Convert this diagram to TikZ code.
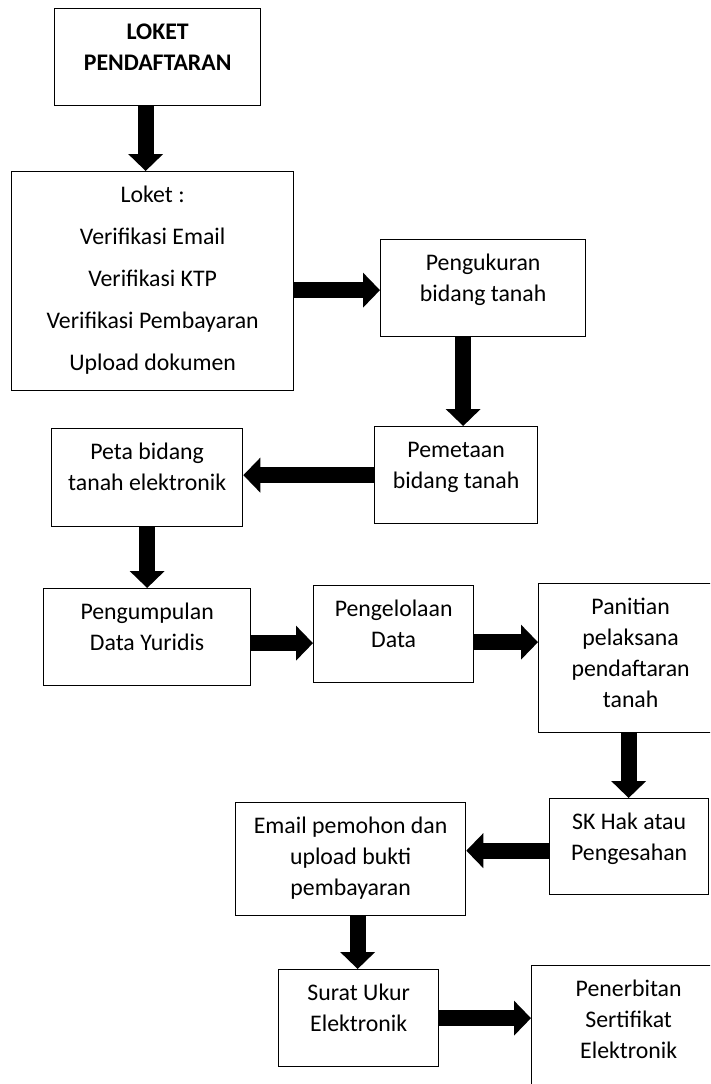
\documentclass[tikz,border=0pt]{standalone}
\usepackage{fontspec}
\setmainfont{Carlito}
\usetikzlibrary{arrows.meta}

\tikzset{
  stage/.style={draw=black, line width=1.3pt, inner sep=0pt, anchor=north west},
  fat/.style={line width=16pt, -{Triangle[width=34pt,length=17pt]}},
}
% text of a box: [line skip]{width}{height}{lines}
\newcommand{\stagetext}[4][31pt]{\parbox[c][#3][t]{#2}{\centering\fontsize{23.8}{#1}\selectfont\rule{0pt}{31pt}#4\par}}

\begin{document}
\begin{tikzpicture}[x=1pt, y=-1pt]
\useasboundingbox (0,0) rectangle (710,1084);
\clip (0,0) rectangle (710,1084);

\node[stage] (daftar) at (54,8) {\stagetext{206pt}{97pt}{\textbf{LOKET}\\\textbf{PENDAFTARAN}}};
\node[stage] (loket) at (11,171) {\stagetext[42pt]{282pt}{219pt}{Loket :\\Verifikasi Email\\Verifikasi KTP\\Verifikasi Pembayaran\\Upload dokumen}};
\node[stage] (ukur) at (380,239) {\stagetext{205pt}{97pt}{Pengukuran\\bidang tanah}};
\node[stage] (petaan) at (374,426) {\stagetext{163pt}{97pt}{Pemetaan\\bidang tanah}};
\node[stage] (peta) at (51,428) {\stagetext{191pt}{98pt}{Peta bidang\\tanah elektronik}};
\node[stage] (kumpul) at (43,588) {\stagetext{207pt}{97pt}{Pengumpulan\\Data Yuridis}};
\node[stage] (kelola) at (313,585) {\stagetext{160pt}{97pt}{Pengelolaan\\Data}};
\node[stage] (panitia) at (538,583) {\stagetext{184pt}{149pt}{Panitian\\pelaksana\\pendaftaran\\tanah}};
\node[stage] (sk) at (549,798) {\stagetext{159pt}{96pt}{SK Hak atau\\Pengesahan}};
\node[stage] (email) at (235,802) {\stagetext{230pt}{113pt}{Email pemohon dan\\upload bukti\\pembayaran}};
\node[stage] (surat) at (278,969) {\stagetext{160pt}{97pt}{Surat Ukur\\Elektronik}};
\node[stage] (terbit) at (531,965) {\stagetext{194pt}{150pt}{Penerbitan\\Sertifikat\\Elektronik}};

\draw[fat] ([xshift=-12pt]daftar.south) -- ([xshift=-12pt]daftar.south |- loket.north);
\draw[fat] ([yshift=-2pt]loket.east |- ukur.west) -- ([yshift=-2pt]ukur.west);
\draw[fat] ([xshift=-20pt]ukur.south) -- ([xshift=-20pt]ukur.south |- petaan.north);
\draw[fat] (petaan.west) -- (petaan.west -| peta.east);
\draw[fat] (peta.south) -- (peta.south |- kumpul.north);
\draw[fat] ([yshift=-6pt]kumpul.east) -- ([yshift=-6pt]kumpul.east -| kelola.west);
\draw[fat] ([yshift=-8pt]kelola.east) -- ([yshift=-8pt]kelola.east -| panitia.west);
\draw[fat] ([xshift=-2pt]panitia.south) -- ([xshift=-2pt]panitia.south |- sk.north);
\draw[fat] ([yshift=-4pt]sk.west) -- ([yshift=-4pt]sk.west -| email.east);
\draw[fat] ([xshift=7pt]email.south) -- ([xshift=7pt]email.south |- surat.north);
\draw[fat] (surat.east) -- (surat.east -| terbit.west);
\end{tikzpicture}
\end{document}
